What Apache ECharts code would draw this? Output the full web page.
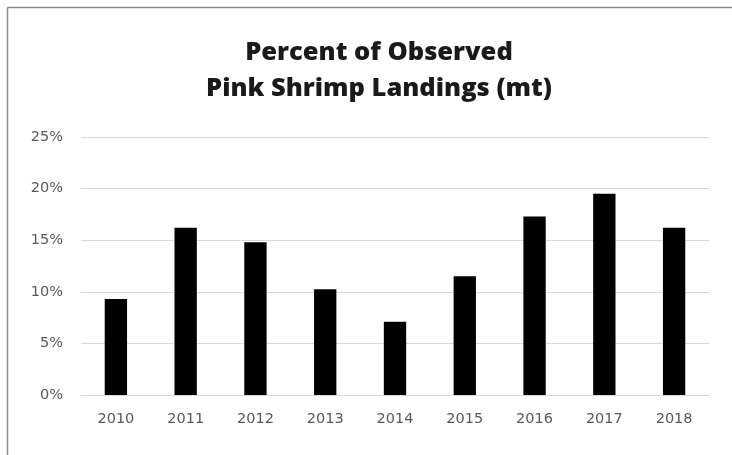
<!DOCTYPE html>
<html>
<head>
<meta charset="utf-8">
<script src="https://cdn.jsdelivr.net/npm/echarts@6/dist/echarts.min.js"></script>
<style>html,body{margin:0;padding:0;background:#fff;overflow:hidden;}#c{width:732px;height:455px;}</style>
</head>
<body>
<div id="c"></div>
<script>
const categories = ['2010','2011','2012','2013','2014','2015','2016','2017','2018'];
const percentObserved = [9.3, 16.2, 14.8, 10.25, 7.1, 11.5, 17.3, 19.5, 16.2];
const yTicks = [0, 5, 10, 15, 20, 25];
const titleLines = ['Percent of Observed', 'Pink Shrimp Landings (mt)'];

const chart = echarts.init(document.getElementById('c'), null, {renderer: 'canvas'});
chart.setOption({
  animation: false,
  backgroundColor: '#fff',
  title: {
    text: titleLines.join('\n'),
    left: 374, top: 30, textAlign: 'center',
    textStyle: {fontFamily: 'Open Sans', fontWeight: 800, fontSize: 25.5, lineHeight: 36, color: '#1a1a1a'}
  },
  graphic: [
    {type: 'line', shape: {x1: 7.5, y1: 7.5, x2: 732, y2: 7.5},
     style: {stroke: '#8c8c8c', lineWidth: 1.5}, silent: true},
    {type: 'line', shape: {x1: 7.5, y1: 7.5, x2: 7.5, y2: 455},
     style: {stroke: '#8c8c8c', lineWidth: 1.5}, silent: true}
  ],
  grid: {left: 81, right: 23, top: 137, bottom: 60},
  xAxis: {
    type: 'category', data: categories,
    axisLine: {show: true, lineStyle: {color: '#d9d9d9', width: 1}},
    axisTick: {show: false},
    axisLabel: {color: '#595959', fontFamily: 'DejaVu Sans', fontSize: 14.5, margin: 17}
  },
  yAxis: {
    type: 'value', min: yTicks[0], max: yTicks[yTicks.length - 1], interval: 5,
    axisLine: {show: false}, axisTick: {show: false},
    splitLine: {lineStyle: {color: '#d9d9d9', width: 1}},
    axisLabel: {color: '#595959', fontFamily: 'DejaVu Sans', fontSize: 14.5, margin: 18, formatter: v => v + '%'}
  },
  series: [{
    type: 'bar', data: percentObserved, barCategoryGap: '68%',
    itemStyle: {color: '#000'}
  }]
});
</script>
</body>
</html>
